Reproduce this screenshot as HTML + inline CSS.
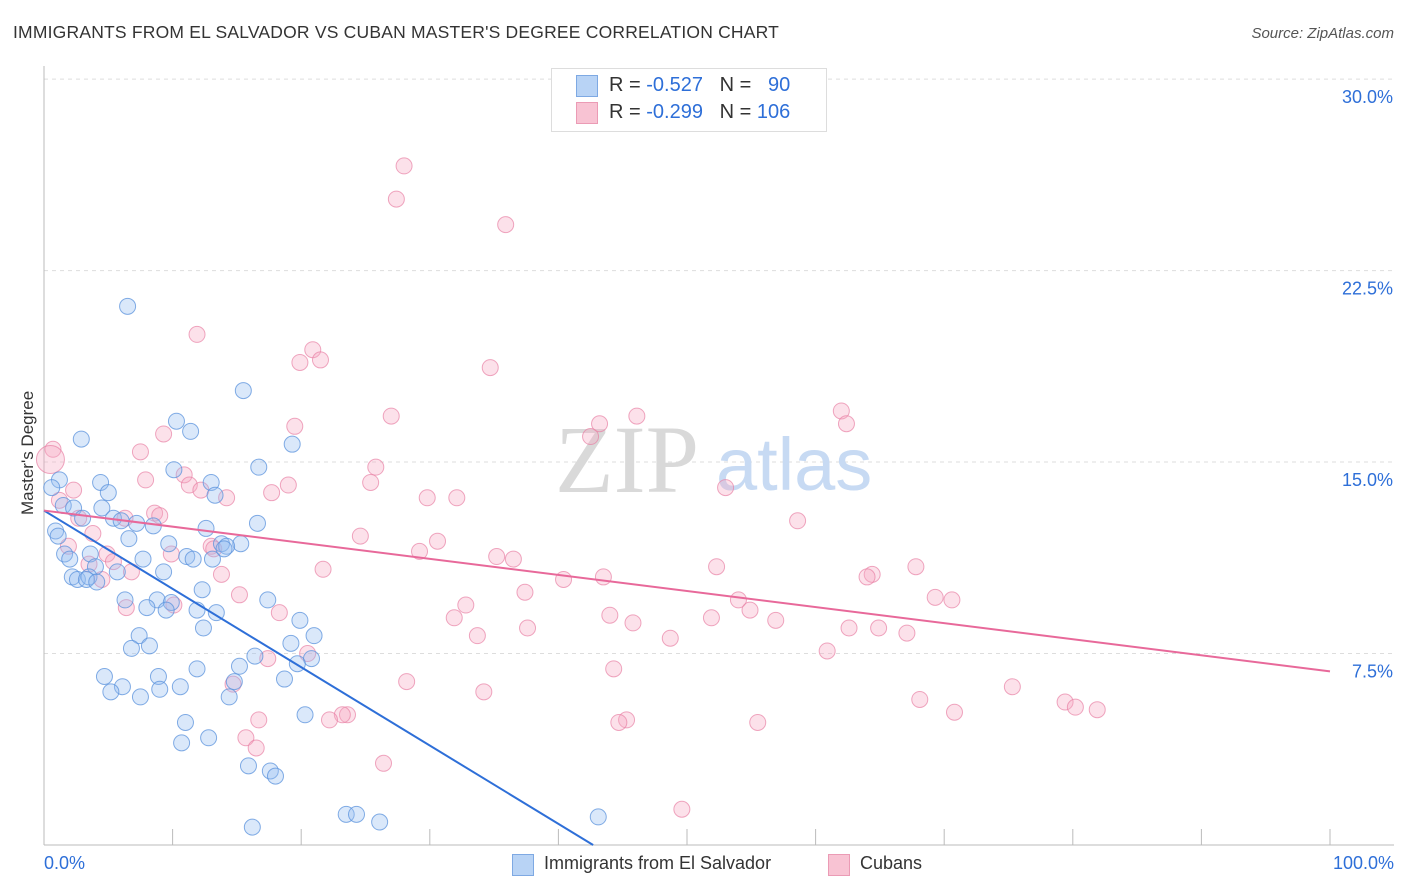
<!DOCTYPE html>
<html><head><meta charset="utf-8">
<style>
body{margin:0;background:#fff;font-family:"Liberation Sans",sans-serif;}
#wrap{position:relative;width:1406px;height:892px;overflow:hidden;}
.t{position:absolute;white-space:nowrap;}
</style></head>
<body>
<div id="wrap">
<div class="t" style="left:13px;top:22px;font-size:17.5px;color:#333;letter-spacing:0.2px">IMMIGRANTS FROM EL SALVADOR VS CUBAN MASTER'S DEGREE CORRELATION CHART</div>
<div class="t" style="right:12px;top:25px;font-size:15px;color:#555;font-style:italic">Source: ZipAtlas.com</div>
<div class="t" style="left:-32px;top:445px;font-size:17px;color:#333;transform:rotate(-90deg);width:120px;text-align:center">Master's Degree</div>
<svg id="plot" width="1406" height="892" style="position:absolute;left:0;top:0"></svg>
<div class="t" style="left:551px;top:68px;width:274px;height:62px;border:1px solid #ddd;background:#fff"></div>
<div class="t" style="left:576px;top:75px;width:20px;height:20px;background:#b8d3f5;border:1px solid #7ea9e3"></div>
<div class="t" style="left:576px;top:102px;width:20px;height:20px;background:#f8c3d3;border:1px solid #eb9bb5"></div>
<div class="t" style="left:609px;top:74px;font-size:20px;color:#333">R = <span style="color:#2e6fd8">-0.527</span>&nbsp;&nbsp;&nbsp;N = &nbsp;&nbsp;<span style="color:#2e6fd8">90</span></div>
<div class="t" style="left:609px;top:101px;font-size:20px;color:#333">R = <span style="color:#2e6fd8">-0.299</span>&nbsp;&nbsp;&nbsp;N = <span style="color:#2e6fd8">106</span></div>
<div class="t" style="left:44px;top:853px;font-size:18px;color:#2e6fd8">0.0%</div>
<div class="t" style="right:12px;top:853px;font-size:18px;color:#2e6fd8">100.0%</div>
<div class="t" style="left:512px;top:854px;width:20px;height:20px;background:#b8d3f5;border:1px solid #7ea9e3"></div>
<div class="t" style="left:544px;top:853px;font-size:18px;color:#333">Immigrants from El Salvador</div>
<div class="t" style="left:828px;top:854px;width:20px;height:20px;background:#f8c3d3;border:1px solid #eb9bb5"></div>
<div class="t" style="left:860px;top:853px;font-size:18px;color:#333">Cubans</div>
</div>
<script>
const yTicks=[7.5,15,22.5,30];
const yTickLabels=["7.5%","15.0%","22.5%","30.0%"];
const blueX=[6.5,15.5,2.9,10.3,11.4,19.3,16.7,10.1,1.2,4.4,13.0,0.6,5.0,13.3,1.5,2.3,4.5,3.0,5.4,6.0,7.2,8.5,16.6,0.9,1.1,6.6,9.7,13.8,15.3,14.2,1.6,2.0,3.6,7.7,11.1,13.1,11.6,4.0,5.7,9.3,2.2,2.6,3.5,3.3,4.1,12.3,6.3,8.8,17.4,9.9,8.0,9.5,11.9,13.4,19.9,12.4,7.4,21.0,8.2,6.8,19.2,16.4,20.8,19.7,15.2,11.9,4.7,8.9,18.7,14.8,6.1,10.6,5.2,9.0,7.5,14.4,20.3,11.0,12.8,10.7,15.9,17.6,18.0,23.5,24.3,26.1,16.2,43.1,14.0,12.6];
const blueY=[21.1,17.8,15.9,16.6,16.2,15.7,14.8,14.7,14.3,14.2,14.2,14.0,13.8,13.7,13.3,13.2,13.2,12.8,12.8,12.7,12.6,12.5,12.6,12.3,12.1,12.0,11.8,11.8,11.8,11.7,11.4,11.2,11.4,11.2,11.3,11.2,11.2,10.9,10.7,10.7,10.5,10.4,10.5,10.4,10.3,10.0,9.6,9.6,9.6,9.5,9.3,9.2,9.2,9.1,8.8,8.5,8.2,8.2,7.8,7.7,7.9,7.4,7.3,7.1,7.0,6.9,6.6,6.6,6.5,6.4,6.2,6.2,6.0,6.1,5.8,5.8,5.1,4.8,4.2,4.0,3.1,2.9,2.7,1.2,1.2,0.9,0.7,1.1,11.6,12.4];
const pinkX=[28.0,27.4,35.9,11.9,20.9,19.9,21.5,34.7,62.0,46.1,27.0,62.4,43.2,19.5,42.5,9.3,0.7,7.5,25.8,10.9,7.9,25.4,19.0,11.3,53.0,12.2,2.3,14.2,17.7,29.8,32.1,1.2,2.7,8.6,9.0,58.6,6.3,3.8,24.6,30.6,1.9,13.0,13.2,9.9,4.9,29.2,35.2,36.5,3.5,5.4,21.7,52.3,67.8,13.8,64.4,64.0,6.8,43.5,40.4,4.5,15.2,37.4,54.0,69.3,70.6,10.1,32.8,6.4,54.9,44.0,31.9,18.3,51.9,56.9,45.8,37.6,62.6,64.9,67.1,33.7,48.7,60.9,20.5,17.4,44.3,14.7,28.2,75.3,34.2,68.1,79.4,80.2,81.9,70.8,23.6,23.2,22.2,16.7,45.3,44.7,55.5,15.7,16.5,26.4,49.6,0.5];
const pinkY=[26.6,25.3,24.3,20.0,19.4,18.9,19.0,18.7,17.0,16.8,16.8,16.5,16.5,16.4,16.0,16.1,15.5,15.4,14.8,14.5,14.3,14.2,14.1,14.1,14.0,13.9,13.9,13.6,13.8,13.6,13.6,13.5,12.8,13.0,12.9,12.7,12.8,12.2,12.1,11.9,11.7,11.7,11.6,11.4,11.4,11.5,11.3,11.2,11.0,11.1,10.8,10.9,10.9,10.6,10.6,10.5,10.7,10.5,10.4,10.4,9.8,9.9,9.6,9.7,9.6,9.4,9.4,9.3,9.2,9.0,8.9,9.1,8.9,8.8,8.7,8.5,8.5,8.5,8.3,8.2,8.1,7.6,7.5,7.3,6.9,6.3,6.4,6.2,6.0,5.7,5.6,5.4,5.3,5.2,5.1,5.1,4.9,4.9,4.9,4.8,4.8,4.2,3.8,3.2,1.4,15.1];
const blueTrend=[[0,13.1],[42.7,0]];
const pinkTrend=[[0,13.1],[100,6.8]];

const X=v=>44+v*12.86, Y=v=>845-v*25.53;
const svg=document.getElementById('plot');
const NS='http://www.w3.org/2000/svg';
function mk(tag,attrs){const e=document.createElementNS(NS,tag);for(const k in attrs)e.setAttribute(k,attrs[k]);svg.appendChild(e);return e;}
yTicks.forEach((t,i)=>{
  const g=mk('line',{x1:44,x2:1394,y1:Y(t),y2:Y(t),stroke:'#ddd','stroke-dasharray':'4,4'});
  
  
  const tx=mk('text',{x:1393,y:Y(t)+24,'text-anchor':'end','font-size':18,fill:'#2e6fd8','font-family':'Liberation Sans, sans-serif'});
  tx.textContent=yTickLabels[i];
  
  
});
const ax=mk('line',{x1:44,x2:1394,y1:845,y2:845,stroke:'#bbb'});


const ay=mk('line',{x1:44,x2:44,y1:66,y2:845,stroke:'#bbb'});


for(let i=0;i<=10;i++){const tk=mk('line',{x1:X(i*10),x2:X(i*10),y1:829,y2:845,stroke:'#bbb'});
  
  }
const w1=mk('text',{x:555,y:492,'font-size':96,fill:'#d9d9d9','font-family':'Liberation Serif, serif'});w1.textContent='ZIP';


const w2=mk('text',{x:716,y:490,'font-size':74,fill:'#c7daf3','font-family':'Liberation Sans, sans-serif'});w2.textContent='atlas';


pinkX.forEach((x,i)=>{const c=mk('circle',{cx:X(x),cy:Y(pinkY[i]),r:i==pinkX.length-1?14:8,fill:'rgba(245,170,195,0.35)',stroke:'rgba(232,130,165,0.7)','stroke-width':1});
  
  });
blueX.forEach((x,i)=>{const c=mk('circle',{cx:X(x),cy:Y(blueY[i]),r:8,fill:'rgba(150,190,240,0.35)',stroke:'rgba(90,145,220,0.75)','stroke-width':1});
  
  });
const bl=mk('line',{x1:X(blueTrend[0][0]),y1:Y(blueTrend[0][1]),x2:X(blueTrend[1][0]),y2:Y(blueTrend[1][1]),stroke:'#2e6fd8','stroke-width':2});


const pl=mk('line',{x1:X(pinkTrend[0][0]),y1:Y(pinkTrend[0][1]),x2:X(pinkTrend[1][0]),y2:Y(pinkTrend[1][1]),stroke:'#e8699a','stroke-width':2});


</script>
</body></html>
